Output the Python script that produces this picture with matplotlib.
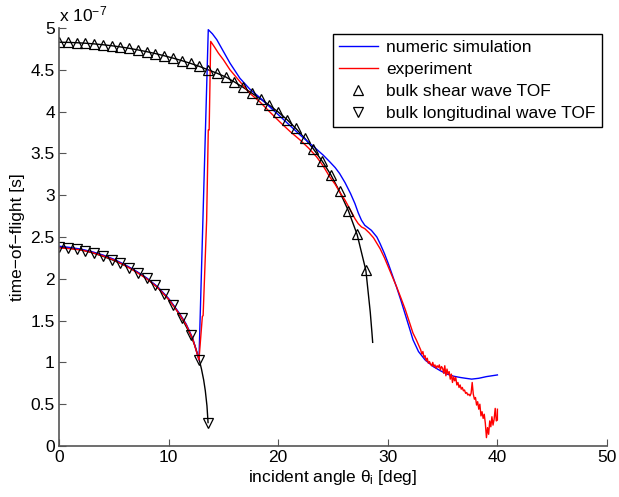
import matplotlib
matplotlib.use("Agg")
import matplotlib.pyplot as plt

# ---- data (time-of-flight in units of 1e-7 s) ----
shear_marker_x = [0, 0.8, 1.6, 2.4, 3.2, 4.0, 4.8, 5.6, 6.4, 7.2, 8.0, 8.8, 9.6, 10.4, 11.2, 12.0,
                  12.8, 13.6, 14.4, 15.2, 16.0, 16.8, 17.6, 18.4, 19.2, 20.0, 20.8, 21.6, 22.4,
                  23.2, 24.0, 24.8, 25.6, 26.4, 27.2, 28.0]
shear_marker_y = [4.83, 4.828, 4.824, 4.818, 4.81, 4.80, 4.788, 4.774, 4.757, 4.738, 4.717, 4.694,
                  4.668, 4.64, 4.61, 4.577, 4.541, 4.50, 4.46, 4.415, 4.355, 4.29, 4.22, 4.15,
                  4.075, 3.995, 3.905, 3.80, 3.685, 3.555, 3.41, 3.245, 3.045, 2.815, 2.53, 2.10]
shear_tail_x = [28.2, 28.4, 28.55, 28.62]
shear_tail_y = [1.85, 1.60, 1.36, 1.24]

long_marker_x = [0, 0.8, 1.6, 2.4, 3.2, 4.0, 4.8, 5.6, 6.4, 7.2, 8.0, 8.8, 9.6, 10.4, 11.2, 12.0,
                 12.8, 13.6]
long_marker_y = [2.38, 2.37, 2.355, 2.335, 2.305, 2.27, 2.23, 2.185, 2.135, 2.075, 2.005, 1.92,
                 1.815, 1.69, 1.53, 1.33, 1.03, 0.28]
long_extra_x = [12.4, 13.0, 13.2, 13.35, 13.5]
long_extra_y = [1.20, 0.92, 0.79, 0.66, 0.48]

sim_x = [0, 1, 2, 3, 4, 5, 6, 7, 8, 9, 10, 11, 11.6, 12.2, 12.77, 13.62, 14.0, 14.4, 15.0,
         15.6, 16.5, 17.4, 18.3, 19.2, 20.2, 21.1, 22.0, 22.8, 23.5, 24.1, 24.7, 25.2, 25.6,
         26.1, 26.6, 27.0, 27.3, 27.6, 27.9, 28.2, 28.5, 29.0, 29.3, 29.7, 30.05, 30.4, 30.8,
         31.2, 31.6, 32.0, 32.3, 32.8, 33.4, 34.15, 34.8, 35.4, 36.0, 36.6, 37.1, 37.65, 38.3,
         39.0, 39.5, 40.0]
sim_y = [2.39, 2.375, 2.355, 2.325, 2.285, 2.235, 2.17, 2.095, 2.01, 1.905, 1.765, 1.585, 1.46,
         1.29, 1.03, 4.98, 4.93, 4.86, 4.72, 4.58, 4.40, 4.27, 4.17, 4.06, 3.94, 3.83, 3.72,
         3.63, 3.55, 3.48, 3.40, 3.33, 3.26, 3.15, 3.02, 2.90, 2.79, 2.70, 2.64, 2.61, 2.58,
         2.50, 2.42, 2.30, 2.18, 2.05, 1.90, 1.74, 1.57, 1.40, 1.27, 1.13, 1.03, 0.95, 0.90,
         0.86, 0.835, 0.82, 0.81, 0.80, 0.81, 0.83, 0.84, 0.85]

exp_x = [0, 1, 2, 3, 4, 5, 6, 7, 8, 9, 10, 11, 11.6, 12.2, 12.77, 13.08, 13.15, 13.47, 13.62,
         13.7, 13.84, 14.2, 14.54, 15.0, 15.6, 16.5, 17.4, 18.3, 19.2, 20.2, 21.1, 22.0, 22.8,
         23.5, 24.1, 24.7, 25.2, 25.6, 26.1, 26.6, 27.0, 27.3, 27.6, 27.9, 28.3, 28.7, 29.3,
         29.7, 30.05, 30.4, 30.8, 31.2, 31.6, 32.0, 32.3, 32.6, 32.94,
         33.0, 33.1, 33.2, 33.3, 33.4, 33.5, 33.6, 33.7, 33.8, 33.9, 34.0, 34.1, 34.2, 34.3,
         34.4, 34.5, 34.6, 34.7, 34.8, 34.9, 35.0, 35.1, 35.2, 35.3, 35.4, 35.5, 35.6, 35.7,
         35.8, 35.9, 36.0, 36.1, 36.2, 36.3, 36.4, 36.5, 36.6, 36.7, 36.8, 36.9, 37.0, 37.1,
         37.2, 37.3, 37.4, 37.5, 37.6, 37.7, 37.8, 37.9, 38.0, 38.1, 38.2, 38.3, 38.4, 38.5,
         38.6, 38.7, 38.8, 38.9, 39.0, 39.1, 39.2, 39.3, 39.4, 39.5, 39.6, 39.7, 39.8, 39.9,
         40.0, 40.0]
exp_y = [2.37, 2.36, 2.345, 2.315, 2.275, 2.225, 2.16, 2.085, 2.00, 1.895, 1.755, 1.575, 1.45,
         1.28, 1.03, 1.55, 1.56, 2.70, 3.78, 3.78, 4.84, 4.77, 4.70, 4.62, 4.50, 4.36, 4.22,
         4.12, 4.00, 3.87, 3.76, 3.66, 3.56, 3.46, 3.35, 3.22, 3.13, 3.04, 2.94, 2.82, 2.72,
         2.66, 2.62, 2.60, 2.55, 2.49, 2.36, 2.25, 2.14, 2.03, 1.905, 1.77, 1.63, 1.47, 1.35,
         1.27, 1.17,
         1.15, 1.10, 1.13, 1.06, 1.08, 1.02, 1.05, 0.99, 1.01, 0.98, 0.96, 1.00, 0.95, 0.97,
         0.93, 0.96, 0.94, 0.97, 0.91, 0.95, 0.93, 0.87, 0.96, 0.84, 0.92, 0.86, 0.89, 0.80,
         0.86, 0.76, 0.83, 0.78, 0.82, 0.73, 0.76, 0.70, 0.73, 0.68, 0.70, 0.66, 0.67, 0.63,
         0.64, 0.61, 0.62, 0.60, 0.63, 0.76, 0.62, 0.56, 0.58, 0.49, 0.53, 0.44, 0.50, 0.36,
         0.41, 0.33, 0.38, 0.27, 0.10, 0.22, 0.14, 0.30, 0.23, 0.35, 0.25, 0.32, 0.45, 0.30,
         0.31, 0.44]

x_ticks = [0, 10, 20, 30, 40, 50]
y_ticks = [0, 0.5, 1, 1.5, 2, 2.5, 3, 3.5, 4, 4.5, 5]
y_tick_labels = ["0", "0.5", "1", "1.5", "2", "2.5", "3", "3.5", "4", "4.5", "5"]

plt.rcParams['font.family'] = ['Liberation Sans', 'DejaVu Sans']
plt.rcParams['mathtext.fontset'] = 'custom'
plt.rcParams['mathtext.rm'] = 'Liberation Sans'
plt.rcParams['mathtext.it'] = 'Liberation Sans'

fig = plt.figure(figsize=(6.19, 4.97), dpi=100)
ax = fig.add_axes([59/619, 51/497, 548/619, 418/497])

# bulk wave curves (lines)
ax.plot(shear_marker_x + shear_tail_x, shear_marker_y + shear_tail_y, color='black', lw=1.0)
lx = sorted(long_marker_x + long_extra_x)
ly_map = dict(zip(long_marker_x + long_extra_x, long_marker_y + long_extra_y))
ax.plot(lx, [ly_map[v] for v in lx], color='black', lw=1.0)

ax.plot(sim_x, sim_y, color='#0000ff', lw=1.0, label='numeric simulation')
ax.plot(exp_x, exp_y, color='#ff0000', lw=1.0, label='experiment')

ax.plot(shear_marker_x, shear_marker_y, linestyle='none', marker='^', ms=6.8,
        markerfacecolor='none', markeredgecolor='black', mew=0.9, label='bulk shear wave TOF')
ax.plot(long_marker_x, long_marker_y, linestyle='none', marker='v', ms=6.8,
        markerfacecolor='none', markeredgecolor='black', mew=0.9,
        label='bulk longitudinal wave TOF')

ax.set_xlim(0, 50)
ax.set_ylim(0, 5)
ax.set_xticks(x_ticks)
ax.set_yticks(y_ticks)
ax.set_yticklabels(y_tick_labels)
for s in ['top', 'right']:
    ax.spines[s].set_visible(False)
for s in ['left', 'bottom']:
    ax.spines[s].set_color('#555555')
    ax.spines[s].set_linewidth(1.2)
ax.tick_params(direction='in', length=5, width=0.8, color='#555555', labelsize=12.5, pad=3)

ax.text(0, 1.008, r'x 10$^{-7}$', transform=ax.transAxes, ha='left', va='bottom', fontsize=12.5)
ax.set_xlabel(r'incident angle $\theta_\mathrm{i}$ [deg]', fontsize=12.5, labelpad=2)
ax.set_ylabel('time\u2212of\u2212flight [s]', fontsize=12.5, labelpad=4)

leg = ax.legend(loc='upper right', bbox_to_anchor=(0.9903, 0.985), borderaxespad=0,
                fontsize=12.5, frameon=True, fancybox=False, framealpha=1,
                edgecolor='black', handlelength=2.2, labelspacing=0.38, handletextpad=0.5,
                borderpad=0.35)
leg.get_frame().set_linewidth(1.0)

fig.savefig('out.png', dpi=100)
